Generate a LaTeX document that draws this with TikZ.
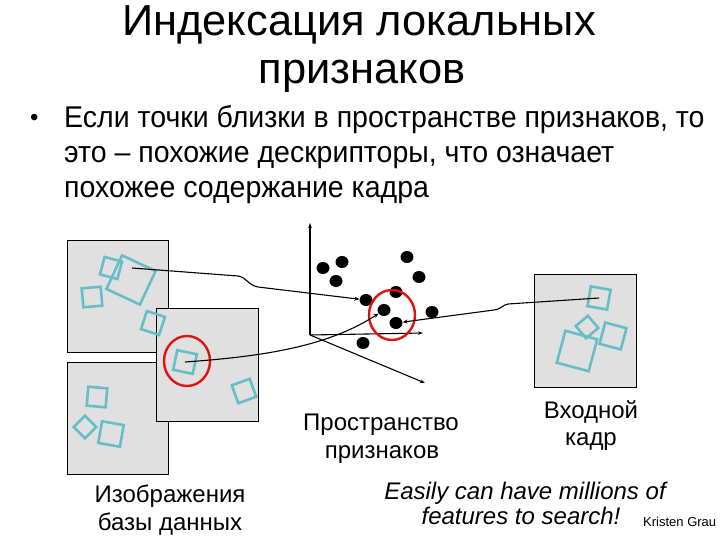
\documentclass[tikz,border=0pt]{standalone}
\usepackage{fontspec}
\setmainfont{Liberation Sans}
\newfontfamily\narrowsf[FakeStretch=0.95]{Liberation Sans}
\usepackage{xcolor}
\usepackage{tikz}
\usetikzlibrary{shapes.geometric, arrows.meta, positioning, calc}
\definecolor{sqteal}{RGB}{104,190,198}
\definecolor{framegray}{RGB}{224,224,224}
\definecolor{ringred}{RGB}{222,20,20}
\tikzstyle{frame} = [rectangle, draw=black, line width=0.9pt, fill=framegray,
                     anchor=north west, inner sep=0pt]
\tikzstyle{sq}    = [rectangle, draw=sqteal, line width=2.6pt, inner sep=0pt]
\tikzstyle{dot}   = [ellipse, fill=black, minimum width=13pt,
                     minimum height=12pt, inner sep=0pt]
\tikzstyle{ring}  = [ellipse, draw=ringred, line width=2.4pt,
                     minimum width=46pt, minimum height=50pt, inner sep=0pt]
\tikzstyle{link}  = [-{Stealth[length=5pt,width=4pt]}, line width=1.1pt]
\tikzstyle{axis}  = [-{Stealth[length=5pt,width=3.5pt]}, line width=1.1pt]
\tikzstyle{lbl}   = [font=\fontsize{24}{28}\selectfont, anchor=base,
                     inner sep=0pt]
\tikzstyle{body}  = [font=\narrowsf\fontsize{30}{34}\selectfont,
                     anchor=base west, inner sep=0pt]

\begin{document}
\begin{tikzpicture}[x=1pt, y=-1pt]
  \useasboundingbox (0,0) rectangle (720,540);

  %% Title and bullet text
  \node[font=\fontsize{43.4}{48}\selectfont, anchor=base, inner sep=0pt]
      (title1) at (359,36) {Индексация локальных};
  \node[font=\fontsize{43.4}{48}\selectfont, anchor=base, inner sep=0pt]
      (title2) at (362,84) {признаков};
  \node[body, font=\fontsize{24}{28}\selectfont] (bul) at (30,126) {•};
  \node[body] (txt1) at (64,128) {Если точки близки в пространстве признаков, то};
  \node[body] (txt2) at (64,163) {это – похожие дескрипторы, что означает};
  \node[body] (txt3) at (64,197) {похожее содержание кадра};

  %% ── Database images (left) ─────────────────────────────────────
  \node[frame, minimum width=101pt, minimum height=112pt] (db1) at (67,240) {};
  \node[frame, minimum width=101pt, minimum height=112pt] (db2) at (67,362) {};
  \node[frame, minimum width=102pt, minimum height=113pt] (db3) at (156,308) {};

  \node[sq, minimum size=18pt, rotate=-15] (a1) at (111,268) {};
  \node[sq, minimum size=37pt, rotate=-25] (a2) at (131,280) {};
  \node[sq, minimum size=19pt, rotate=5]   (a3) at (92,297) {};
  \node[sq, minimum size=19pt, rotate=-18] (a4) at (153,323) {};

  \node[sq, minimum size=19pt, rotate=-5]  (b1) at (97,397) {};
  \node[sq, minimum size=16pt, rotate=45]  (b2) at (85,427) {};
  \node[sq, minimum size=22pt, rotate=-10] (b3) at (111,434) {};

  \node[sq, minimum size=20pt, rotate=-12] (c1) at (185,362) {};
  \node[sq, minimum size=19pt, rotate=20]  (c2) at (244,391) {};
  \node[ring] (ringdb) at (187,361) {};

  %% ── Feature space (middle) ─────────────────────────────────────
  \coordinate (orig) at (310,335);
  \draw[axis] (orig) -- ++(0,-112) coordinate (yax);
  \draw[axis] (orig) -- ++(113,-2) coordinate (xax);
  \draw[axis] (orig) -- ++(115,48) coordinate (zax);

  \node[dot] (f1)  at (323,268) {};
  \node[dot] (f2)  at (342,262) {};
  \node[dot] (f3)  at (336,281) {};
  \node[dot] (f4)  at (407,257) {};
  \node[dot] (f5)  at (419,277) {};
  \node[dot] (f6)  at (396,292) {};
  \node[dot] (f7)  at (366,300) {};
  \node[dot] (f8)  at (384,310) {};
  \node[dot] (f9)  at (396,323) {};
  \node[dot] (f10) at (432,312) {};
  \node[dot] (f11) at (363,343) {};
  \node[ring] (ringfs) at (392,315) {};

  %% ── Query frame (right) ────────────────────────────────────────
  \node[frame, minimum width=102pt, minimum height=113pt] (qf) at (534,274) {};
  \node[sq, minimum size=20pt, rotate=-10] (q1) at (599,298) {};
  \node[sq, minimum size=16pt, rotate=40]  (q2) at (587,327) {};
  \node[sq, minimum size=22pt, rotate=-15] (q3) at (613,336) {};
  \node[sq, minimum size=33pt, rotate=-15] (q4) at (577,351) {};

  %% Matches -> feature points
  \coordinate (a2top) at ($(a2.center)+(1,-12)$);
  \draw[link] (a2top) -- (238,276)
      .. controls (246,277) and (248,285) .. (258,287) -- (f7);
  \draw[link] (c1.center) .. controls (270,356) and (330,345) .. (f8);
  \draw[link] (q1.center) -- (508,304)
      .. controls (502,305) and (502,309) .. (494,310) -- (f9);

  %% Captions
  \node[lbl] (capdb1) at (170,502) {Изображения};
  \node[lbl] (capdb2) at (170,530) {базы данных};
  \node[lbl] (capfs1) at (381,430) {Пространство};
  \node[lbl] (capfs2) at (382,458) {признаков};
  \node[lbl] (capqf1) at (591,418) {Входной};
  \node[lbl] (capqf2) at (591,445) {кадр};
  \node[lbl, font=\itshape\fontsize{24}{28}\selectfont] (note1)
      at (525,499) {Easily can have millions of};
  \node[lbl, font=\itshape\fontsize{24}{28}\selectfont] (note2)
      at (521,524) {features to search!};
  \node[font=\fontsize{13}{15}\selectfont, anchor=base west, inner sep=0pt]
      (credit) at (643,526) {Kristen Grau};

\end{tikzpicture}
\end{document}
